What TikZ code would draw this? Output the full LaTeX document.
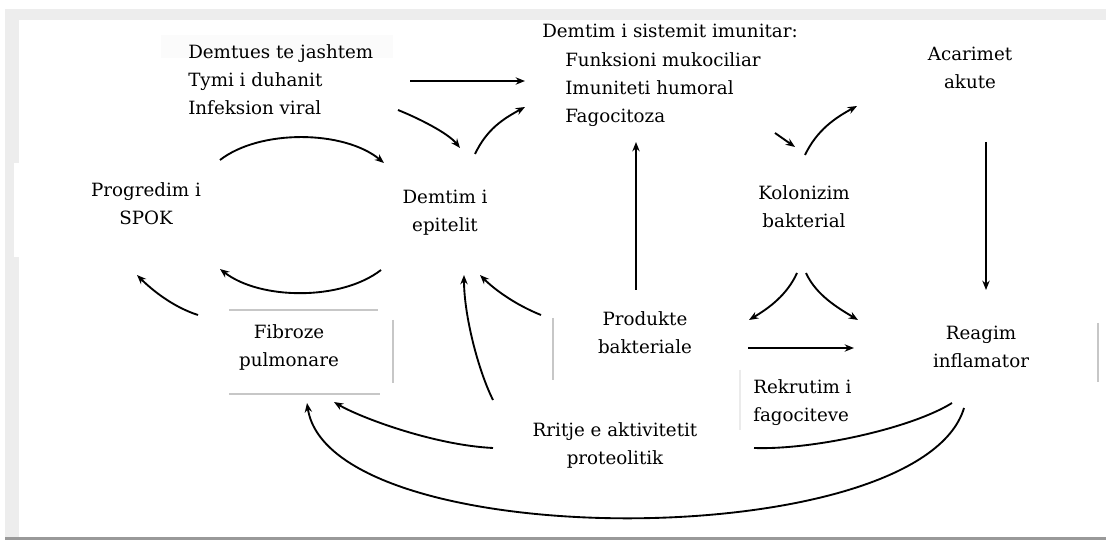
\documentclass[tikz,border=0pt]{standalone}
\usepackage{fontspec}
\setmainfont{DejaVu Serif}
\usetikzlibrary{arrows.meta}
\begin{document}
\begin{tikzpicture}[x=0.75pt,y=-0.75pt,
  lbl/.style={inner sep=0pt, align=center, font=\fontsize{13.7}{21}\selectfont},
  arr/.style={line width=1.4pt, -{Stealth[length=7pt,width=5.5pt]}},
  ln/.style={line width=1.4pt},
  ghost/.style={draw=black!22, line width=0.9pt}]
\useasboundingbox (0,0) rectangle (1106,541);
\fill[white] (0,0) rectangle (1106,541);
% screenshot frame
\fill[black!7] (5,9) rectangle (1106,20);
\fill[black!7] (5,9) rectangle (19,538);
\fill[white] (14,163) rectangle (60,257);
\fill[black!40] (5,537) rectangle (1106,540);
\fill[black!1.5] (161,35) rectangle (393,58);
% faint artefact lines
\draw[ghost] (229,310) -- (378,310);
\draw[ghost] (229,394) -- (380,394);
\draw[ghost] (393,320) -- (393,383);
\draw[ghost] (553,318) -- (553,380);
\draw[ghost] (1098,323) -- (1098,382);
\draw[draw=black!8, line width=0.9pt] (740,370) -- (740,430);

% nodes
\node[lbl, align=left, anchor=west] (ext) at (188,80) {Demtues te jashtem\\Tymi i duhanit\\Infeksion viral};
\node[lbl, align=left, anchor=west, font=\fontsize{13.7}{21.2}\selectfont] (sys) at (542,75.5)
  {Demtim i sistemit imunitar:\\\hspace*{17.25pt}Funksioni mukociliar\\\hspace*{17.25pt}Imuniteti humoral\\\hspace*{17.25pt}Fagocitoza};
\node[lbl] (acu) at (970,67.5) {Acarimet\\akute};
\node[lbl] (spok) at (146,204) {Progredim i\\SPOK};
\node[lbl] (epi) at (445,213) {Demtim i\\epitelit};
\node[lbl] (kol) at (804,206.5) {Kolonizim\\bakterial};
\node[lbl] (fib) at (289,347) {Fibroze\\pulmonare};
\node[lbl] (prod) at (645,333) {Produkte\\bakteriale};
\node[lbl] (rea) at (981,347) {Reagim\\inflamator};
\node[lbl, align=left, anchor=west] (rek) at (753,402.5) {Rekrutim i\\fagociteve};
\node[lbl] (rri) at (615,445) {Rritje e aktivitetit\\proteolitik};

% connectors
\draw[arr] ([shift={(222,1)}]ext.west) -- ([shift={(-17,5.5)}]sys.west);
\draw[arr] ([shift={(210,30)}]ext.west) .. controls +(20,8) and +(-12,-15) .. ([shift={(15,-65)}]epi.center);
\draw[arr] ([shift={(30,-59)}]epi.center) .. controls +(12,-25) and +(-22,12) .. ([shift={(-17,31.5)}]sys.west);
\draw[arr] ([shift={(74,-44)}]spok.center) .. controls +(40,-31) and +(-40,-33) .. ([shift={(-61,-50)}]epi.center);
\draw[arr] ([shift={(-64,57)}]epi.center) .. controls +(-40,31) and +(40,31) .. ([shift={(74,65)}]spok.center);
\draw[arr] ([shift={(-91,-32)}]fib.center) .. controls +(-25,-8) and +(15,15) .. ([shift={(-9,71)}]spok.center);
\draw[arr] ([shift={(-9,-43)}]prod.center) -- ([shift={(94,66.5)}]sys.west);
\draw[arr] ([shift={(233,57.5)}]sys.west) -- ([shift={(-9,-59.5)}]kol.center);
\draw[arr] ([shift={(1,-51.5)}]kol.center) .. controls +(12,-25) and +(-22,12) .. ([shift={(-113,38.5)}]acu.center);
\draw[arr] ([shift={(16,74.5)}]acu.center) -- ([shift={(5,-57)}]rea.center);
\draw[arr] ([shift={(-7,66.5)}]kol.center) .. controls +(-10,22) and +(20,-12) .. ([shift={(104,-13)}]prod.center);
\draw[arr] ([shift={(2,66.5)}]kol.center) .. controls +(10,22) and +(-20,-12) .. ([shift={(-123,-27)}]rea.center);
\draw[arr] ([shift={(103,15)}]prod.center) -- ([shift={(-127,1)}]rea.center);
\draw[ln] ([shift={(-29,56)}]rea.center) .. controls +(-40,25) and +(60,2) .. ([shift={(139,3)}]rri.center);
\draw[arr] ([shift={(-17,61)}]rea.center) .. controls +(-44,147) and +(23,152) .. ([shift={(18,56)}]fib.center);
\draw[arr] ([shift={(-122,3)}]rri.center) .. controls +(-60,-3) and +(25,15) .. ([shift={(45,55)}]fib.center);
\draw[arr] ([shift={(-122,-45)}]rri.center) .. controls +(-15,-30) and +(0,40) .. ([shift={(19,62)}]epi.center);
\draw[arr] ([shift={(-104,-18)}]prod.center) .. controls +(-25,-10) and +(15,15) .. ([shift={(35,62)}]epi.center);
\end{tikzpicture}
\end{document}
